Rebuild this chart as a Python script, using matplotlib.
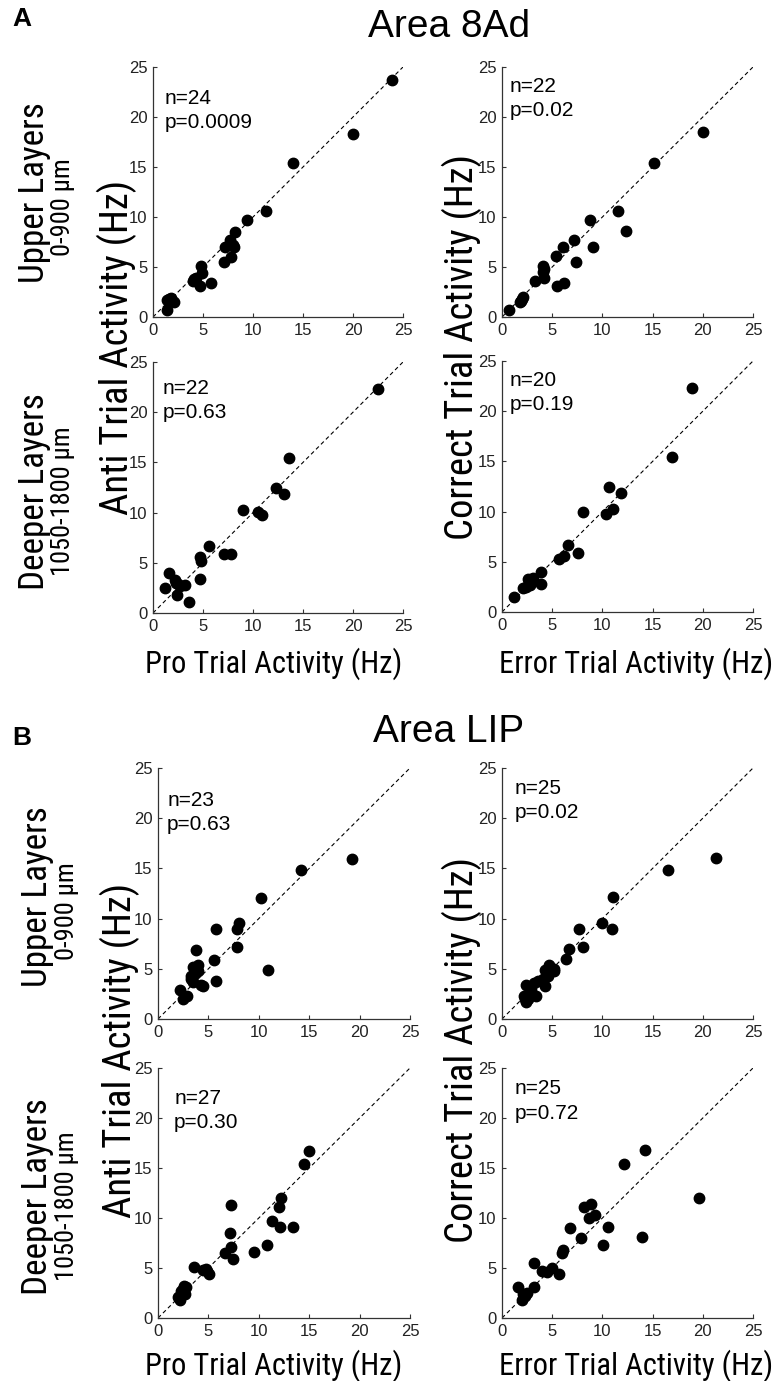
import os
import matplotlib
matplotlib.use("Agg")
import matplotlib.pyplot as plt
from matplotlib import font_manager
from matplotlib.font_manager import FontProperties

plt.rcParams['font.family'] = ['Liberation Sans', 'DejaVu Sans']

# ---------------- data ----------------
# Area 8Ad, upper layers
a8_up_pro  = [23.9, 20.0, 14.0, 11.3, 9.4, 8.2, 7.7, 7.2, 8.1, 7.8, 7.1, 4.8, 4.9, 4.3, 4.0, 4.7, 5.8, 1.8, 1.4, 2.1, 1.4, 4.1, 1.6, 8.0]
a8_up_anti = [23.7, 18.3, 15.4, 10.6, 9.7, 8.5, 7.7, 7.0, 7.0, 6.0, 5.5, 5.1, 4.4, 3.9, 3.6, 3.1, 3.4, 1.9, 1.7, 1.5, 0.7, 3.8, 1.8, 7.2]
a8_up_err  = [20.0, 15.1, 11.6, 12.4, 8.8, 9.1, 7.2, 6.1, 5.4, 7.4, 4.1, 4.1, 4.2, 3.3, 5.5, 6.2, 2.1, 1.9, 0.7, 2.0, 1.8, 4.2]
a8_up_corr = [18.5, 15.4, 10.6, 8.6, 9.7, 7.0, 7.7, 7.0, 6.1, 5.5, 5.1, 4.5, 3.9, 3.6, 3.1, 3.4, 2.0, 1.6, 0.7, 1.8, 1.5, 4.8]
# Area 8Ad, deeper layers
a8_dp_pro  = [22.5, 13.6, 12.3, 13.1, 9.0, 10.5, 10.9, 5.6, 7.1, 7.8, 4.7, 4.8, 4.7, 1.6, 2.2, 2.5, 3.2, 1.2, 2.4, 3.6, 2.7, 2.3]
a8_dp_anti = [22.3, 15.4, 12.5, 11.9, 10.3, 10.1, 9.8, 6.7, 5.9, 5.9, 5.6, 5.2, 3.4, 4.0, 3.3, 2.9, 2.8, 2.5, 1.8, 1.1, 2.7, 3.0]
a8_dp_err  = [18.9, 16.9, 10.7, 11.9, 11.1, 10.4, 8.1, 6.6, 6.2, 5.7, 7.6, 3.9, 3.9, 3.1, 2.7, 2.8, 2.4, 2.1, 1.2, 2.6]
a8_dp_corr = [22.3, 15.4, 12.5, 11.9, 10.3, 9.8, 10.0, 6.7, 5.6, 5.3, 5.9, 4.0, 2.8, 3.4, 3.2, 2.7, 2.5, 2.4, 1.5, 3.3]
# Area LIP, upper layers
lip_up_pro  = [19.2, 14.2, 10.2, 8.0, 7.8, 5.8, 7.8, 3.8, 5.6, 10.9, 5.8, 4.0, 3.3, 4.3, 3.5, 2.2, 2.5, 2.9, 3.5, 4.0, 3.7, 4.5, 3.3]
lip_up_anti = [15.9, 14.8, 12.1, 9.6, 9.0, 9.0, 7.2, 6.9, 5.9, 4.9, 3.8, 4.8, 4.3, 3.4, 3.7, 2.9, 2.0, 2.3, 5.2, 5.4, 4.6, 3.3, 4.0]
lip_up_err  = [21.3, 16.5, 11.1, 10.0, 11.0, 7.7, 8.1, 6.7, 6.4, 5.2, 4.6, 4.1, 4.3, 3.2, 2.4, 3.4, 2.2, 2.4, 2.9, 4.7, 5.2, 4.3, 3.6, 2.6, 2.3]
lip_up_corr = [16.0, 14.8, 12.2, 9.6, 9.0, 9.0, 7.2, 7.0, 6.0, 4.8, 4.3, 4.0, 3.3, 3.6, 3.4, 2.3, 2.3, 1.7, 2.9, 5.4, 5.0, 4.9, 3.8, 2.0, 2.0]
# Area LIP, deeper layers
lip_dp_pro  = [15.0, 14.5, 12.2, 12.0, 7.2, 11.3, 13.4, 12.1, 10.8, 9.5, 7.1, 7.2, 7.4, 6.6, 3.6, 4.5, 4.9, 5.1, 2.8, 2.3, 2.7, 2.1, 2.2, 2.5, 2.6, 4.8, 2.0]
lip_dp_anti = [16.7, 15.4, 12.0, 11.1, 11.3, 9.7, 9.1, 9.1, 7.3, 6.6, 8.5, 7.1, 5.9, 6.5, 5.1, 4.8, 4.7, 4.4, 3.1, 2.7, 2.4, 2.0, 1.8, 2.9, 3.2, 4.9, 2.1]
lip_dp_err  = [14.2, 12.2, 19.6, 8.2, 8.9, 9.3, 8.7, 13.9, 10.6, 10.1, 7.9, 6.8, 6.1, 6.0, 5.7, 5.0, 4.5, 4.0, 3.2, 3.2, 2.5, 2.1, 2.0, 1.6, 2.3]
lip_dp_corr = [16.8, 15.4, 12.0, 11.1, 11.4, 10.3, 10.0, 8.1, 9.1, 7.3, 8.0, 9.0, 6.8, 6.5, 4.4, 5.0, 4.6, 4.7, 5.5, 3.1, 2.5, 2.4, 1.8, 3.1, 2.2]

stats_n = ["n=24", "n=22", "n=22", "n=20", "n=23", "n=25", "n=27", "n=25"]
stats_p = ["p=0.0009", "p=0.02", "p=0.63", "p=0.19", "p=0.63", "p=0.02", "p=0.30", "p=0.72"]
ticks = [0, 5, 10, 15, 20, 25]


# ---------------- condensed font lookup ----------------
def find_condensed():
    prefs = ['liberationsansnarrow-regular', 'arialnarrow', 'robotocondensed-regular',
             'notosans-condensed.', 'notosans-condensed', 'opensans-condensed',
             'opensanscondensed', 'dejavusanscondensed.', 'dejavusanscondensed']
    files = [f.fname for f in font_manager.fontManager.ttflist]
    for p in prefs:
        for fn in files:
            b = os.path.basename(fn).lower().replace(' ', '')
            if b.startswith(p):
                bad = any(w in b for w in ['bold', 'italic', 'oblique', 'light', 'thin',
                                            'black', 'medium', 'semi', 'extra'])
                if not bad:
                    return fn
    return None


cond_file = find_condensed()


def lab_font(size):
    if cond_file:
        return FontProperties(fname=cond_file, size=size)
    return FontProperties(family=['Liberation Sans', 'DejaVu Sans'], size=size)


# ---------------- layout ----------------
W, H = 779, 1381
fig = plt.figure(figsize=(W / 100, H / 100), dpi=100)
renderer = fig.canvas.get_renderer()

# base label size so that "Pro Trial Activity (Hz)" is ~258 px wide
probe = fig.text(0, 0, 'Pro Trial Activity (Hz)', fontproperties=lab_font(24))
wpx = probe.get_window_extent(renderer).width
probe.remove()
base = 24 * 258.0 / wpx
xlab_size = base
ylab_size = base * 1.27
row_size = base * 1.15
sub_size = base * 0.72 * 1.2


def rect(x0, y0, x1, y1):
    return [x0 / W, 1 - y1 / H, (x1 - x0) / W, (y1 - y0) / H]


def fp(x, y):
    return x / W, 1 - y / H


panels = [
    (rect(153, 67, 403, 317),   a8_up_pro,  a8_up_anti,  (1.2, 21.9)),
    (rect(502, 67, 753, 317),   a8_up_err,  a8_up_corr,  (0.8, 23.1)),
    (rect(153, 362, 403, 613),  a8_dp_pro,  a8_dp_anti,  (1.0, 22.4)),
    (rect(502, 361, 753, 612),  a8_dp_err,  a8_dp_corr,  (0.8, 23.1)),
    (rect(158, 768, 410, 1019), lip_up_pro, lip_up_anti, (0.9, 21.8)),
    (rect(502, 768, 753, 1019), lip_up_err, lip_up_corr, (1.3, 23.0)),
    (rect(158, 1068, 410, 1318), lip_dp_pro, lip_dp_anti, (1.6, 22.0)),
    (rect(502, 1068, 753, 1318), lip_dp_err, lip_dp_corr, (1.3, 22.9)),
]

axcol = '#333333'
for i, (r, xs, ys, tpos) in enumerate(panels):
    ax = fig.add_axes(r)
    ax.plot([0, 25], [0, 25], color='black', lw=0.8, ls=(0, (3.6, 2.7)), zorder=1)
    ax.plot(xs, ys, 'o', color='black', ms=7.5, mec='black', zorder=3, clip_on=False)
    ax.set_xlim(0, 25)
    ax.set_ylim(0, 25)
    ax.set_xticks(ticks)
    ax.set_yticks(ticks)
    for s in ['top', 'right']:
        ax.spines[s].set_visible(False)
    for s in ['left', 'bottom']:
        ax.spines[s].set_color(axcol)
        ax.spines[s].set_linewidth(0.9)
    ax.tick_params(direction='in', length=3, width=0.8, colors=axcol,
                   labelsize=12, labelcolor='#222222', pad=4)
    ax.text(tpos[0], tpos[1], stats_n[i], fontsize=15, va='center', ha='left')
    ax.text(tpos[0], tpos[1] - 2.45, stats_p[i], fontsize=15, va='center', ha='left')

# panel letters and titles
fig.text(*fp(12, 19), 'A', fontsize=19, fontweight='bold', va='center', ha='left')
fig.text(*fp(449, 27), 'Area 8Ad', fontsize=28, va='center', ha='center')
fig.text(*fp(12, 738), 'B', fontsize=19, fontweight='bold', va='center', ha='left')
fig.text(*fp(449, 732), 'Area LIP', fontsize=28, va='center', ha='center')

# row labels and y-axis labels
for (xc_big, xc_small, yc_up, yc_dn, xy_lab, y_lab) in [
        (35, 63, 193, 492, 117, 347),
        (38, 67, 897, 1197, 120, 1050)]:
    fig.text(*fp(xc_big, yc_up), 'Upper Layers', fontproperties=lab_font(row_size),
             rotation=90, va='center', ha='center')
    fig.text(*fp(xc_small, yc_up + 14), '0-900 \u03bcm', fontproperties=lab_font(sub_size),
             rotation=90, va='center', ha='center')
    fig.text(*fp(xc_big, yc_dn), 'Deeper Layers', fontproperties=lab_font(row_size),
             rotation=90, va='center', ha='center')
    fig.text(*fp(xc_small, yc_dn + 9), '1050-1800 \u03bcm', fontproperties=lab_font(sub_size),
             rotation=90, va='center', ha='center')
    fig.text(*fp(xy_lab, y_lab), 'Anti Trial Activity (Hz)', fontproperties=lab_font(ylab_size),
             rotation=90, va='center', ha='center')
    fig.text(*fp(462, y_lab), 'Correct Trial Activity (Hz)',
             fontproperties=lab_font(ylab_size), rotation=90, va='center', ha='center')

for y in (664, 1366):
    fig.text(*fp(274, y), 'Pro Trial Activity (Hz)', fontproperties=lab_font(xlab_size),
             va='center', ha='center')
    fig.text(*fp(636, y), 'Error Trial Activity (Hz)', fontproperties=lab_font(xlab_size),
             va='center', ha='center')

fig.savefig('out.png', dpi=100)
